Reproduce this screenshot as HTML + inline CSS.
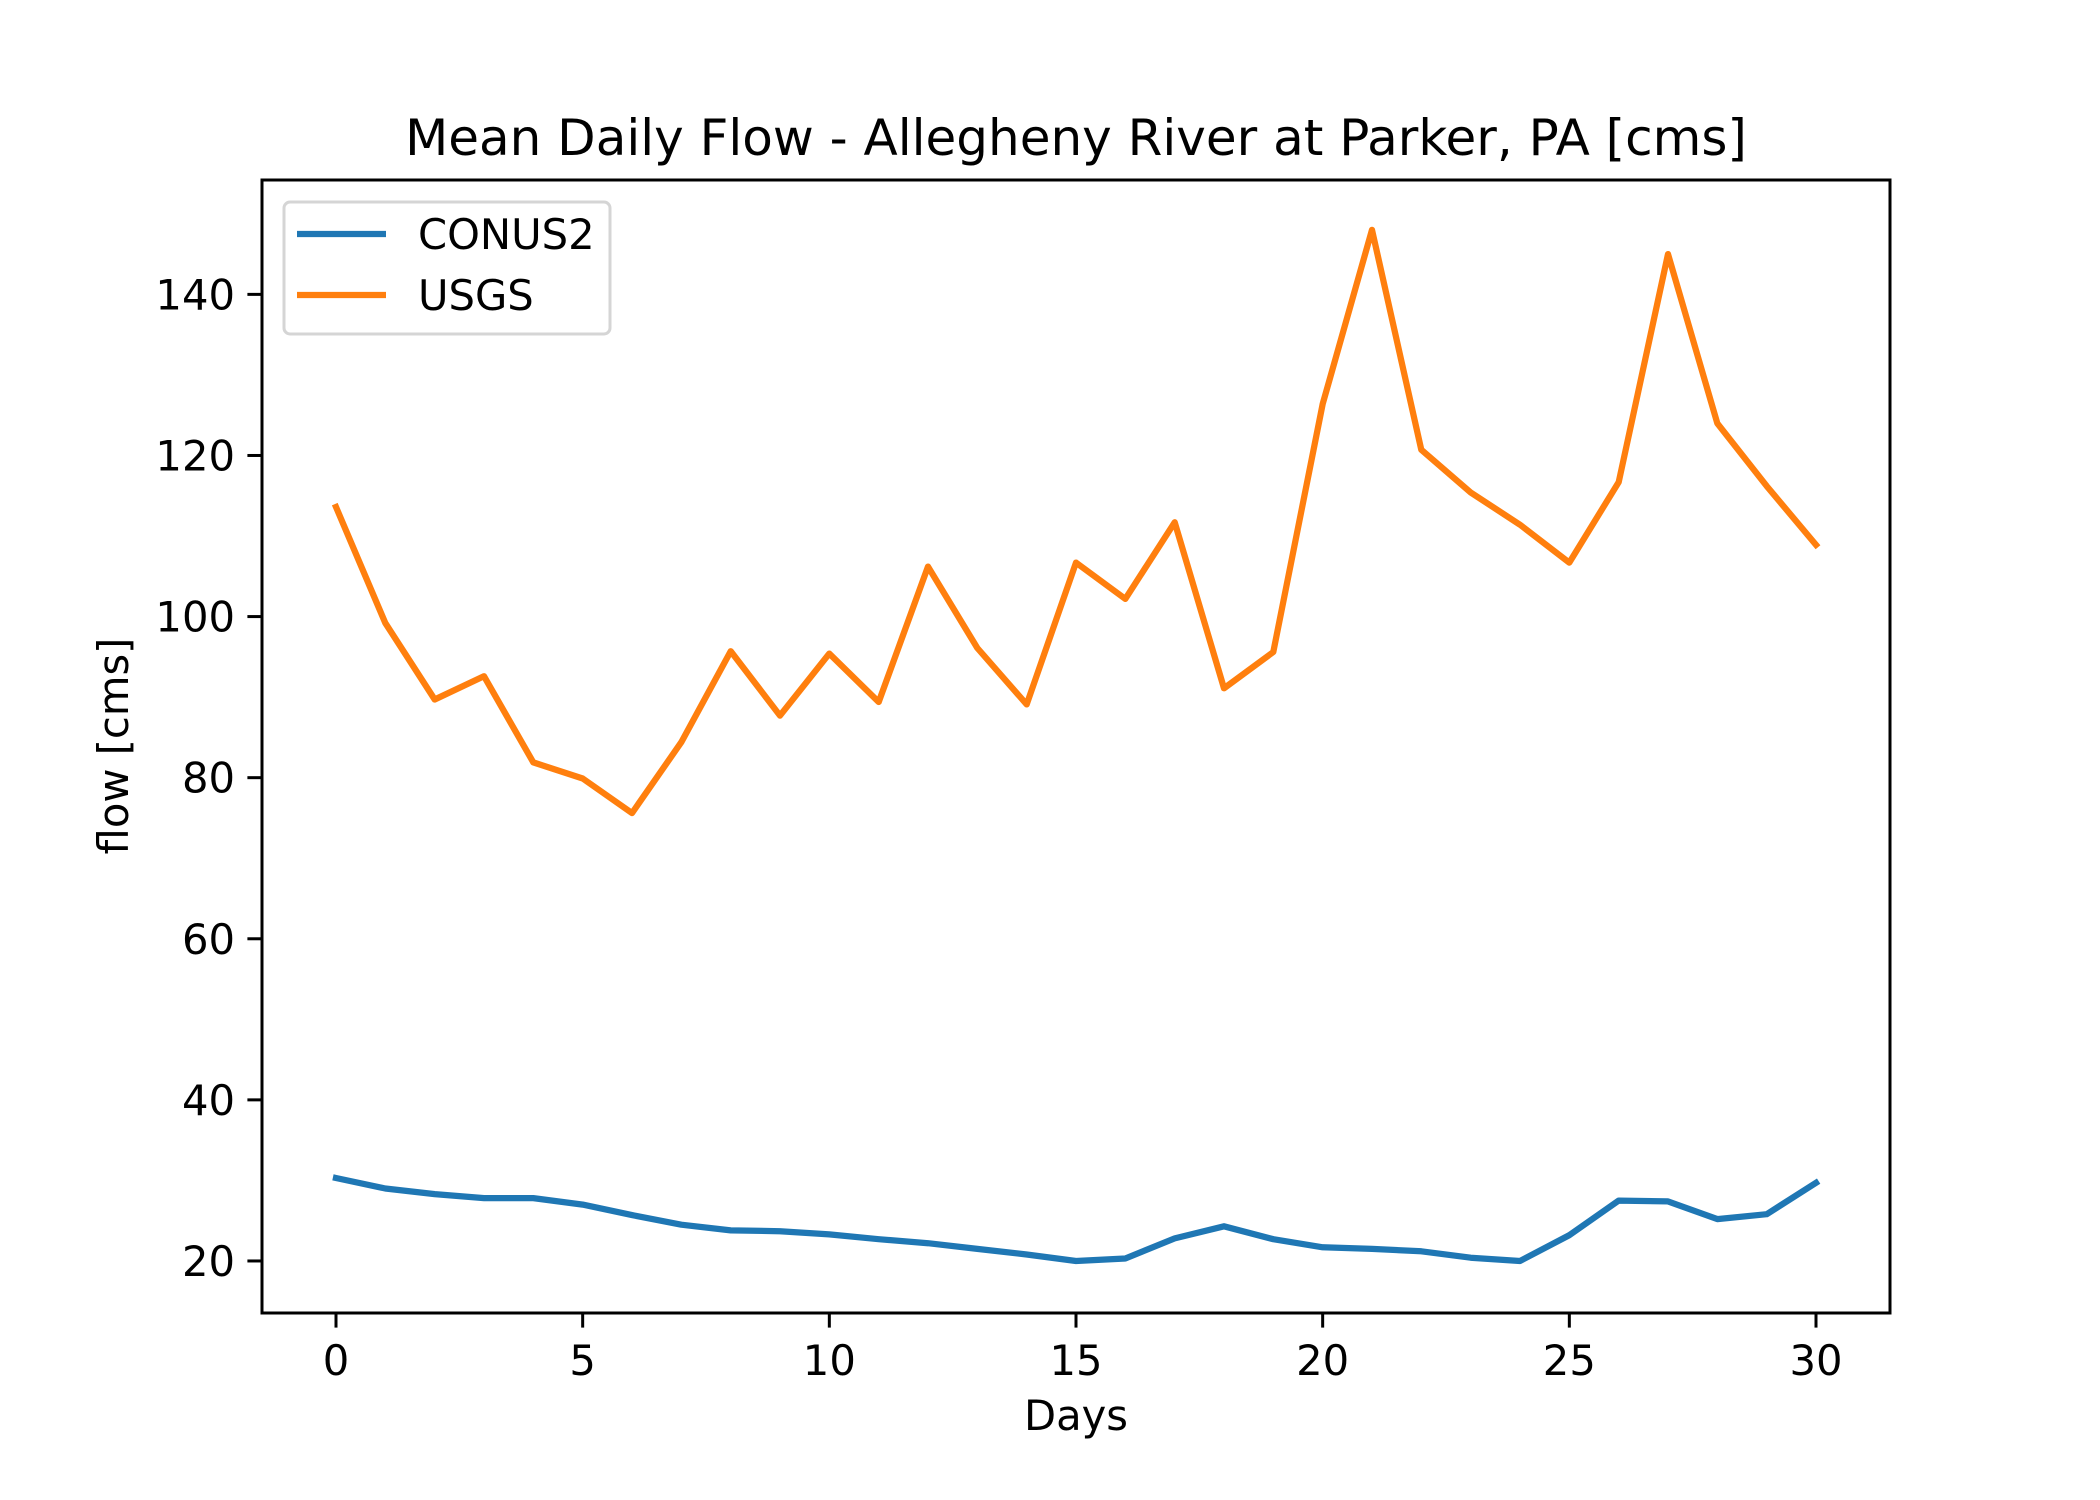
<!DOCTYPE html>
<html><head><meta charset="utf-8"><style>
html,body{margin:0;padding:0;background:#fff;}
svg{display:block;font-family:"DejaVu Sans","Liberation Sans",sans-serif;}
</style></head><body>
<svg id="chart" width="2100" height="1500" viewBox="0 0 2100 1500">
<rect x="0" y="0" width="2100" height="1500" fill="#fff"/>
<text x="1076" y="155" font-size="50" text-anchor="middle">Mean Daily Flow - Allegheny River at Parker, PA [cms]</text>
<g id="plot"></g>
<rect x="262" y="180" width="1628" height="1133" fill="none" stroke="#000" stroke-width="3"/>
<text x="1076" y="1430" font-size="41.7" text-anchor="middle">Days</text>
<text x="0" y="0" font-size="41.7" text-anchor="middle" transform="translate(128,746) rotate(-90)">flow [cms]</text>
<g>
<rect x="284" y="202" width="326" height="132" rx="6" fill="#fff" fill-opacity="0.8" stroke="#d5d5d5" stroke-width="3"/>
<line x1="297" y1="234" x2="386" y2="234" stroke="#1f77b4" stroke-width="6.25"/>
<text x="418" y="249" font-size="41.7">CONUS2</text>
<line x1="297" y1="295" x2="386" y2="295" stroke="#ff7f0e" stroke-width="6.25"/>
<text x="418" y="310" font-size="41.7">USGS</text>
</g>
</svg>
<script>
const days = [0,1,2,3,4,5,6,7,8,9,10,11,12,13,14,15,16,17,18,19,20,21,22,23,24,25,26,27,28,29,30];
const usgs = [113.6,99.2,89.7,92.6,81.9,79.9,75.6,84.4,95.7,87.7,95.4,89.4,106.2,96.1,89.1,106.7,102.2,111.7,91.1,95.6,126.4,148,120.7,115.4,111.4,106.7,116.7,145,124,116.2,108.9];
const conus2 = [30.3,29,28.3,27.8,27.8,27,25.7,24.5,23.8,23.7,23.3,22.7,22.2,21.5,20.8,20.0,20.3,22.8,24.3,22.7,21.7,21.5,21.2,20.4,20.0,23.2,27.5,27.4,25.2,25.8,29.7];
const xTicks = [0,5,10,15,20,25,30];
const yTicks = [20,40,60,80,100,120,140];

const NS = "http://www.w3.org/2000/svg";
const L=262,R=1890,T=180,B=1313;
const xmin=-1.5,xmax=31.5,ymin=13.54,ymax=154.2;
function xs(v){return L+(v-xmin)/(xmax-xmin)*(R-L);}
function ys(v){return B-(v-ymin)/(ymax-ymin)*(B-T);}
const plot=document.getElementById('plot');
function mk(tag,attrs){const e=document.createElementNS(NS,tag);for(const k in attrs)e.setAttribute(k,attrs[k]);return e;}

xTicks.forEach(t=>{
  const l=mk('line',{x1:xs(t),x2:xs(t),y1:B,y2:B+14.6,stroke:'#000','stroke-width':3});
  
  
  plot.appendChild(l);
  const tx=mk('text',{x:xs(t),y:B+62,'font-size':41.7,'text-anchor':'middle'});
  tx.textContent=t;
  
  
  plot.appendChild(tx);
});
yTicks.forEach(t=>{
  const l=mk('line',{x1:L-14.6,x2:L,y1:ys(t),y2:ys(t),stroke:'#000','stroke-width':3});
  
  
  plot.appendChild(l);
  const tx=mk('text',{x:L-27,y:ys(t)+15,'font-size':41.7,'text-anchor':'end'});
  tx.textContent=t;
  
  
  plot.appendChild(tx);
});
function series(vals,color,name){
  const d=vals.map((v,i)=>(i?'L':'M')+xs(days[i]).toFixed(1)+','+ys(v).toFixed(1)).join(' ');
  const p=mk('path',{d:d,fill:'none',stroke:color,'stroke-width':6.25,'stroke-linejoin':'round','stroke-linecap':'square'});
  
  
  plot.appendChild(p);
}
series(conus2,'#1f77b4','conus2-line');
series(usgs,'#ff7f0e','usgs-line');
</script>
</body></html>
